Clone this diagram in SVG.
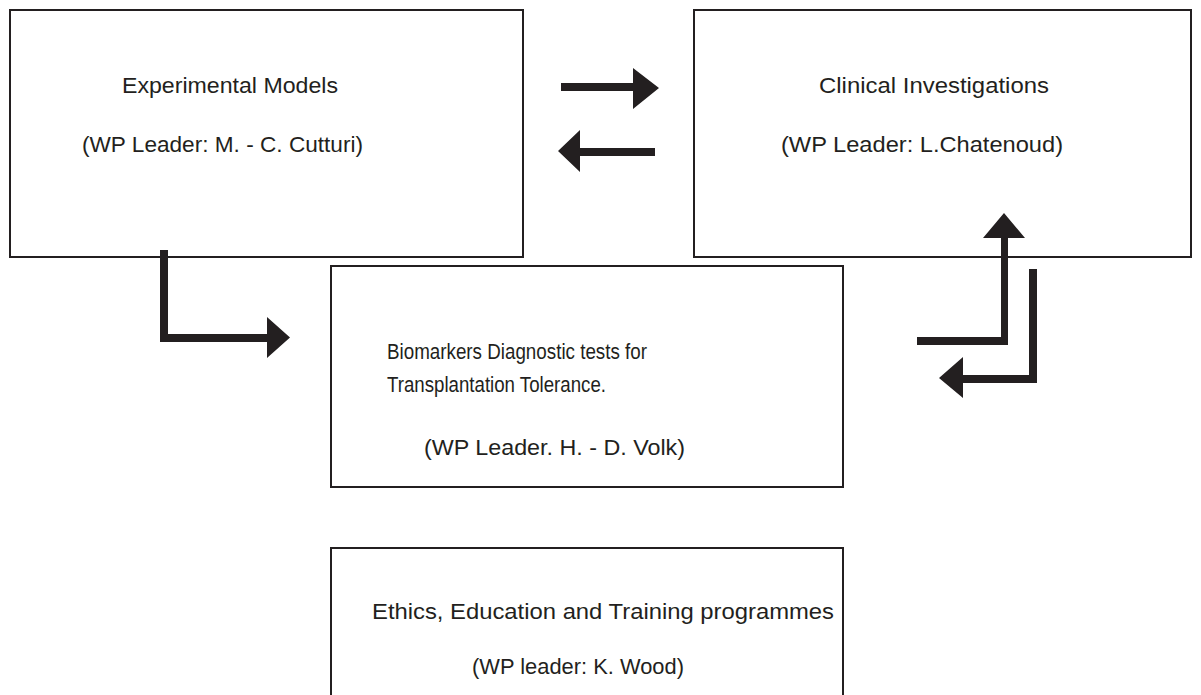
<svg xmlns="http://www.w3.org/2000/svg" width="1201" height="695" viewBox="0 0 1201 695">
<style>
.box{fill:#fff;stroke:#231f20;stroke-width:2}
.t{font-family:"Liberation Sans",Arial,sans-serif;font-size:22px;fill:#231f20}
.ar{fill:#231f20}
</style>
<rect width="1201" height="695" fill="#fff"/>
<g id="n1">
<rect class="box" x="10" y="10" width="513" height="247"/>
<text class="t" x="122" y="93" textLength="216" lengthAdjust="spacingAndGlyphs">Experimental Models</text>
<text class="t" x="82" y="152" textLength="281" lengthAdjust="spacingAndGlyphs">(WP Leader: M. - C. Cutturi)</text>
</g>
<g id="n2">
<rect class="box" x="694" y="10" width="497" height="247"/>
<text class="t" x="819" y="93" textLength="230" lengthAdjust="spacingAndGlyphs">Clinical Investigations</text>
<text class="t" x="781" y="152" textLength="282" lengthAdjust="spacingAndGlyphs">(WP Leader: L.Chatenoud)</text>
</g>
<g id="n3">
<rect class="box" x="331" y="266" width="512" height="221"/>
<text class="t" x="387" y="359" textLength="260" lengthAdjust="spacingAndGlyphs">Biomarkers Diagnostic tests for</text>
<text class="t" x="387" y="392" textLength="219" lengthAdjust="spacingAndGlyphs">Transplantation Tolerance.</text>
<text class="t" x="424" y="455" textLength="261" lengthAdjust="spacingAndGlyphs">(WP Leader. H. - D. Volk)</text>
</g>
<g id="n4">
<rect class="box" x="331" y="548" width="512" height="160"/>
<text class="t" x="372" y="619" textLength="462" lengthAdjust="spacingAndGlyphs">Ethics, Education and Training programmes</text>
<text class="t" x="472" y="674" textLength="212" lengthAdjust="spacingAndGlyphs">(WP leader:  K. Wood)</text>
</g>
<g id="connectors">
<polygon class="ar" points="561,83 633,83 633,68 659,88 633,109 633,91 561,91"/>
<polygon class="ar" points="655,148 580,148 580,130 558,151 580,172 580,156 655,156"/>
<polygon class="ar" points="160,250 168,250 168,334 267,334 267,317 290,337.5 267,358 267,342 160,342"/>
<polygon class="ar" points="917,337 1001,337 1001,238 983,238 1004,213 1025,238 1008,238 1008,345 917,345"/>
<polygon class="ar" points="1029,269 1037,269 1037,383 963,383 963,398 939,378 963,357 963,375 1029,375"/>
</g>
</svg>
